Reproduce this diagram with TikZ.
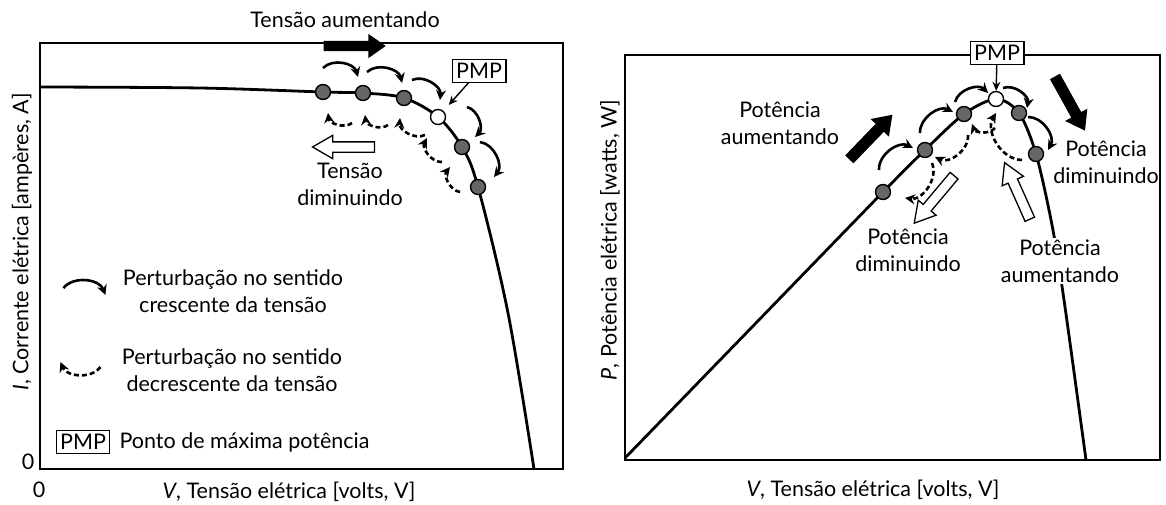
\documentclass[tikz,border=0pt]{standalone}
\usepackage{fontspec}
\setmainfont{Lato}
\usetikzlibrary{shapes.arrows, arrows.meta, calc}

\tikzset{
  frame/.style={line width=1.6pt},
  curve/.style={line width=2.8pt},
  dot/.style={circle, draw, line width=1.4pt, fill=black!60, inner sep=0pt, minimum size=15pt},
  opendot/.style={dot, fill=white},
  incr/.style={line width=2.6pt, -{Stealth[length=10pt,width=10pt]}, bend left=60},
  decr/.style={incr, dash pattern=on 5pt off 3pt},
  pmpbox/.style={draw, line width=1.2pt, fill=white, inner xsep=4pt, inner ysep=3.5pt},
  pmparrow/.style={line width=1.4pt, -{Stealth[length=9pt,width=8pt]}},
  hollow/.style={single arrow, draw, line width=1.3pt, fill=white, inner sep=4.5pt,
    single arrow head extend=6.5pt, single arrow tip angle=60, minimum height=62pt},
  bigarrow/.style={single arrow, fill=black, inner sep=5pt,
    single arrow head extend=7pt, single arrow tip angle=70, minimum height=62pt},
  txt/.style={align=center}
}

\begin{document}
\begin{tikzpicture}[x=1pt, y=-1pt, font=\fontsize{21.5}{27}\selectfont]
\useasboundingbox (0,0) rectangle (1166,504);

% left: current against voltage
\draw[frame] (40,43) rectangle (563,469);
\foreach \n/\x/\y in {1/323/92, 2/363/93, 3/404/98, 4/438/117, 5/462/147, 6/478/187}
   \coordinate (ci\n) at (\x,\y);
\draw[curve] plot[smooth, tension=0.55] coordinates {(40,87) (200,88) (ci1) (ci2) (ci3) (ci4) (ci5) (ci6) (508,313) (534,469)};
\foreach \n in {1,2,3,5,6}
   \node[dot] (i\n) at (ci\n) {};
\node[opendot] (i4) at (ci4) {};

\foreach \a/\b/\sx/\sy/\ex/\ey in {i1/i2/0/-24/-5/-16, i2/i3/4/-21/-2/-15, i3/i4/8/-18/2/-17, i4/i5/29/-10/13/-10, i5/i6/18/-5/16/-10}
   \draw[incr] ($(\a)+(\sx,\sy)$) to ($(\b)+(\ex,\ey)$);
\foreach \a/\sx/\sy/\ex/\ey in {i1/29/31/5/21, i2/25/32/2/22, i3/21/37/-4/20, i4/4/45/-11/21, i5/-2/45/-12/20}
   \draw[decr] ($(\a)+(\sx,\sy)$) to ($(\a)+(\ex,\ey)$);

\node[pmpbox] (pmpL) at (479,71) {PMP};
\draw[pmparrow, shorten >=8pt] (pmpL) -- (i4);

\node (tup) at (345,20) {Tensão aumentando};
\node[bigarrow] (tupa) at (351,46) {};
\node[hollow, rotate=180] (tdna) at (348,147) {};
\node[txt] (tdn) at (350,184) {Tensão\\diminuindo};

% legend
\node[txt] (leg1) at (233,291) {Perturbação no sentido\\crescente da tensão};
\node[txt] (leg2) at (232,370) {Perturbação no sentido\\decrescente da tensão};
\node[pmpbox] (leg3) at (83,442) {PMP};
\node[anchor=west] (leg3t) at (116,442) {Ponto de máxima potência};
\draw[incr] ($(leg1.west)+(-56,-3)$) to ($(leg1.west)+(-14,4)$);
\draw[decr] ($(leg2.west)+(-18,-3)$) to ($(leg2.west)+(-58,-8)$);

\node (zy) at (28,462) {0};
\node (zx) at (39,490) {0};
\node (vl) at (289,492) {\textit{V}, Tensão elétrica [volts, V]};
\node[rotate=90] (il) at (22,242) {\textit{I}, Corrente elétrica [ampères, A]};

% right: power against voltage
\draw[frame] (625,55) rectangle (1160,460);
\foreach \n/\x/\y in {1/883/192, 2/925/150, 3/964/114, 4/996/99, 5/1019/113, 6/1036/154}
   \coordinate (cp\n) at (\x,\y);
\draw[curve] plot[smooth, tension=0.5] coordinates {(625,458) (754,325) (cp1) (cp2) (cp3) (cp4) (cp5) (cp6) (1052,225) (1064,300) (1086,460)};
\foreach \n in {1,2,3,5,6}
   \node[dot] (p\n) at (cp\n) {};
\node[opendot] (p4) at (cp4) {};

\foreach \a/\b/\sx/\sy/\ex/\ey in {p1/p2/-4/-22/-12/-2, p2/p3/-5/-17/-11/-2, p3/p4/-9/-12/-8/-6, p4/p5/7/-11/8/-5, p5/p6/9/4/12/-4}
   \draw[incr] ($(\a)+(\sx,\sy)$) to ($(\b)+(\ex,\ey)$);
\foreach \a/\b/\sx/\sy/\ex/\ey in {p2/p1/7/13/22/6, p3/p2/4/21/10/7, p4/p3/-1/29/8/10, p6/p4/-14/6/0/14}
   \draw[decr] ($(\a)+(\sx,\sy)$) to ($(\b)+(\ex,\ey)$);

\node[pmpbox] (pmpR) at (997,53) {PMP};
\draw[pmparrow] (pmpR) -- (p4);

\node[txt] (pup) at (780,123) {Potência\\aumentando};
\node[bigarrow, rotate=46, inner sep=5.5pt] (pupa) at (868,140) {};
\node[txt] (pdn) at (1106,162) {Potência\\diminuindo};
\node[bigarrow, rotate=-61, inner sep=5.5pt] (pdna) at (1068,100) {};
\node[hollow, rotate=-130] (pdnh) at (937,196) {};
\node[txt] (pdn2) at (908,250) {Potência\\diminuindo};
\node[hollow, rotate=114] (puph) at (1019,195) {};
\node[txt, fill=white, inner sep=2pt] (pup2) at (1060,261) {Potência\\aumentando};

\node (vr) at (873,490) {\textit{V}, Tensão elétrica [volts, V]};
\node[rotate=90] (pl) at (610,240) {\textit{P}, Potência elétrica [watts, W]};
\end{tikzpicture}
\end{document}
